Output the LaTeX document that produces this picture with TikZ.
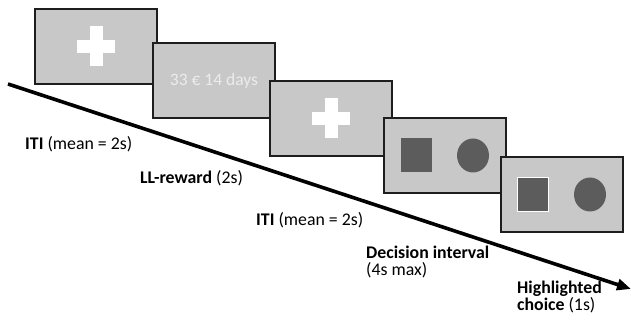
\documentclass[tikz,border=0pt]{standalone}
\usepackage{fontspec}
\setmainfont{Carlito}
\usepackage{tikz}
\usetikzlibrary{shapes.geometric, arrows.meta, positioning}
\definecolor{screengray}{RGB}{200, 200, 200}
\definecolor{shapegray}{RGB}{92, 92, 92}
\definecolor{framegray}{RGB}{30, 30, 30}
\definecolor{paletext}{RGB}{236, 236, 236}

\begin{document}
\begin{tikzpicture}[
  x=1pt, y=-1pt,
  screen/.style={rectangle, draw=framegray, line width=1.4pt, fill=screengray,
                 minimum width=122pt, minimum height=75pt, outer sep=0pt, inner sep=0pt},
  bar/.style={rectangle, fill=white, inner sep=0pt, outer sep=0pt},
  sq/.style={rectangle, fill=shapegray, minimum width=31pt, minimum height=34pt, inner sep=0pt},
  disc/.style={ellipse, fill=shapegray, minimum width=32pt, minimum height=34pt, inner sep=0pt},
  lbl/.style={anchor=west, align=left, inner sep=0pt, font=\fontsize{17.8}{17}\selectfont},
  timeline/.style={-{Triangle[length=14pt, width=11pt]}, line width=3.6pt}
]
  \useasboundingbox (0,0) rectangle (631,320);

  % screens
  \node[screen] (iti1) at (96,46.5) {};
  \node[screen, below right=-41pt and -4pt of iti1] (reward) {};
  \node[screen, below right=-37pt and -5pt of reward] (iti2) {};
  \node[screen, below right=-38pt and -8pt of iti2] (decide) {};
  \node[screen, below right=-36pt and -5pt of decide] (highl) {};

  % fixation crosses
  \node[bar, minimum width=38pt, minimum height=13pt] (cross1h) at (iti1) {};
  \node[bar, minimum width=13pt, minimum height=40pt] (cross1v) at (iti1) {};
  \node[bar, minimum width=38pt, minimum height=13pt] (cross2h) at (iti2) {};
  \node[bar, minimum width=13pt, minimum height=40pt] (cross2v) at (iti2) {};

  % reward offer
  \node[font=\fontsize{17.5}{17}\selectfont, text=paletext] (offer) at (reward) {33 € 14 days};

  % options
  \node[sq] (dsq) at ([xshift=-28.5pt]decide.center) {};
  \node[disc] (dcirc) at ([xshift=28pt]decide.center) {};
  \node[sq, draw=white, line width=1.5pt] (hsq) at ([xshift=-29pt]highl.center) {};
  \node[disc] (hcirc) at ([xshift=28pt]highl.center) {};

  % time axis
  \coordinate (tstart) at (8,84);
  \coordinate (tend) at (631,289);
  \draw[timeline] (tstart) -- (tend);

  % phase labels
  \node[lbl] (lab1) at (25,144) {\textbf{ITI} (mean = 2s)};
  \node[lbl] (lab2) at (140,178) {\textbf{LL-reward} (2s)};
  \node[lbl] (lab3) at (256,220) {\textbf{ITI} (mean = 2s)};
  \node[lbl] (lab4) at (366,261.5) {\textbf{Decision interval}\\(4s max)};
  \node[lbl] (lab5) at (517,296.5) {\textbf{Highlighted}\\\textbf{choice} (1s)};
\end{tikzpicture}
\end{document}
